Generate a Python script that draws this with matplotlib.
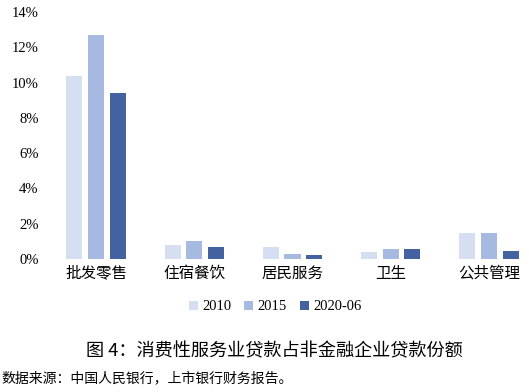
import matplotlib.pyplot as plt
import numpy as np

plt.rcParams['font.family'] = ['Noto Sans CJK SC', 'DejaVu Sans']

categories = ["批发零售", "住宿餐饮", "居民服务", "卫生", "公共管理"]
series_names = ["2010", "2015", "2020-06"]
v2010 = [10.4, 0.8, 0.7, 0.4, 1.47]
v2015 = [12.7, 1.0, 0.3, 0.55, 1.5]
v2020 = [9.4, 0.7, 0.2, 0.58, 0.45]
colors = ["#D6DFF1", "#A6B9E0", "#44629F"]
yticks = [0, 2, 4, 6, 8, 10, 12, 14]

W, H = 529, 392
fig = plt.figure(figsize=(W / 100, H / 100), dpi=100)

# pixel layout of the reference: group centres ~96 and ~489, zero at y=259, 14% at y=12
pitch = 98.25
left_px = 96 - pitch / 2
ax = fig.add_axes([left_px / W, 1 - 259 / H, (W - left_px) / W, (259 - 12) / H])

x = np.arange(len(categories))
bw = 0.165
step = 0.22
for i, (vals, name) in enumerate(zip([v2010, v2015, v2020], series_names)):
    ax.bar(x + (i - 1) * step, vals, width=bw, color=colors[i], label=name)

ax.set_xlim(-0.5, -0.5 + (W - left_px) / pitch)
ax.set_ylim(0, 14)
ax.set_yticks(yticks)
ax.set_yticklabels([f"{t}%" for t in yticks], family=['Liberation Serif'], fontsize=10.5)
ax.set_xticks(x)
ax.set_xticklabels(categories, fontsize=11.2)
ax.tick_params(length=0)
ax.tick_params(axis='y', pad=6)
ax.tick_params(axis='x', pad=4)
for s in ax.spines.values():
    s.set_visible(False)

leg = fig.legend(loc='center', bbox_to_anchor=(275 / W, 1 - 307 / H), ncol=3, frameon=False,
                 handlelength=0.6, handleheight=0.6, handletextpad=0.3, columnspacing=0.9,
                 prop={'family': 'Liberation Serif', 'size': 10.5})

fig.text(274 / W, 1 - 351 / H, "图 4：消费性服务业贷款占非金融企业贷款份额",
         ha='center', va='center', fontsize=13.1)
fig.text(1 / W, 1 - 378 / H, "数据来源：中国人民银行，上市银行财务报告。",
         ha='left', va='center', fontsize=10)

fig.savefig("out.png", dpi=100)
